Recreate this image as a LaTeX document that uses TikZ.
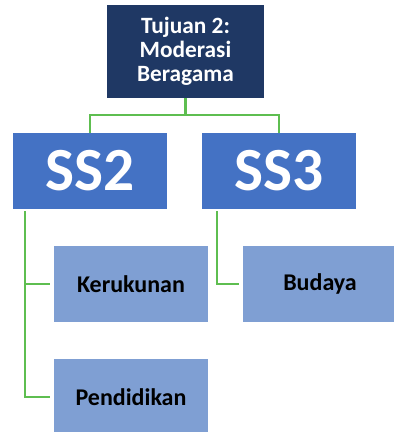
\documentclass[tikz,border=0pt]{standalone}
\usepackage{fontspec}
\setmainfont{Carlito}
\definecolor{navy}{HTML}{1F3864}
\definecolor{midblue}{HTML}{4472C4}
\definecolor{paleblue}{HTML}{7F9FD3}
\definecolor{linkgreen}{RGB}{94,190,80}
\begin{document}
\begin{tikzpicture}[x=0.75pt, y=-0.75pt,
    goal/.style={rectangle, fill=navy, text=white, minimum width=117.75pt, minimum height=69.75pt, align=center, font=\fontsize{17.5}{17.8}\selectfont\bfseries},
    sub/.style={rectangle, fill=midblue, text=white, minimum width=115.5pt, minimum height=57pt, font=\fontsize{46}{48}\selectfont\bfseries},
    item/.style={rectangle, fill=paleblue, text=black, minimum width=115.5pt, minimum height=57pt, font=\fontsize{18}{20}\selectfont\bfseries},
    link/.style={draw=linkgreen, line width=2.2pt}]
        \useasboundingbox (0,0) rectangle (393,432);

        % Nodes
        \node (goal) [goal] at (185.5, 51.5) {Tujuan 2:\\Moderasi\\Beragama};
        \node (ss2) [sub] at (90, 171) {SS2};
        \node (ss3) [sub] at (279, 171) {SS3};
        \node (kerukunan) [item] at (131, 284) {Kerukunan};
        \node (pendidikan) [item] at (131, 397) {Pendidikan};
        \node (budaya) [item] at (320, 284) {Budaya};
        \coordinate (join) at (185.5, 115);
        \coordinate (ss2root) at (25, 211);
        \coordinate (ss3root) at (217, 211);

        % Edges
        \draw[link] (goal) -- (join);
        \draw[link] (ss2) |- (join) -| (ss3);
        \draw[link, shorten >=3pt] (ss2root) |- (kerukunan);
        \draw[link, shorten >=3pt] (ss2root) |- (pendidikan);
        \draw[link, shorten >=3pt] (ss3root) |- (budaya);
    \end{tikzpicture}
\end{document}
